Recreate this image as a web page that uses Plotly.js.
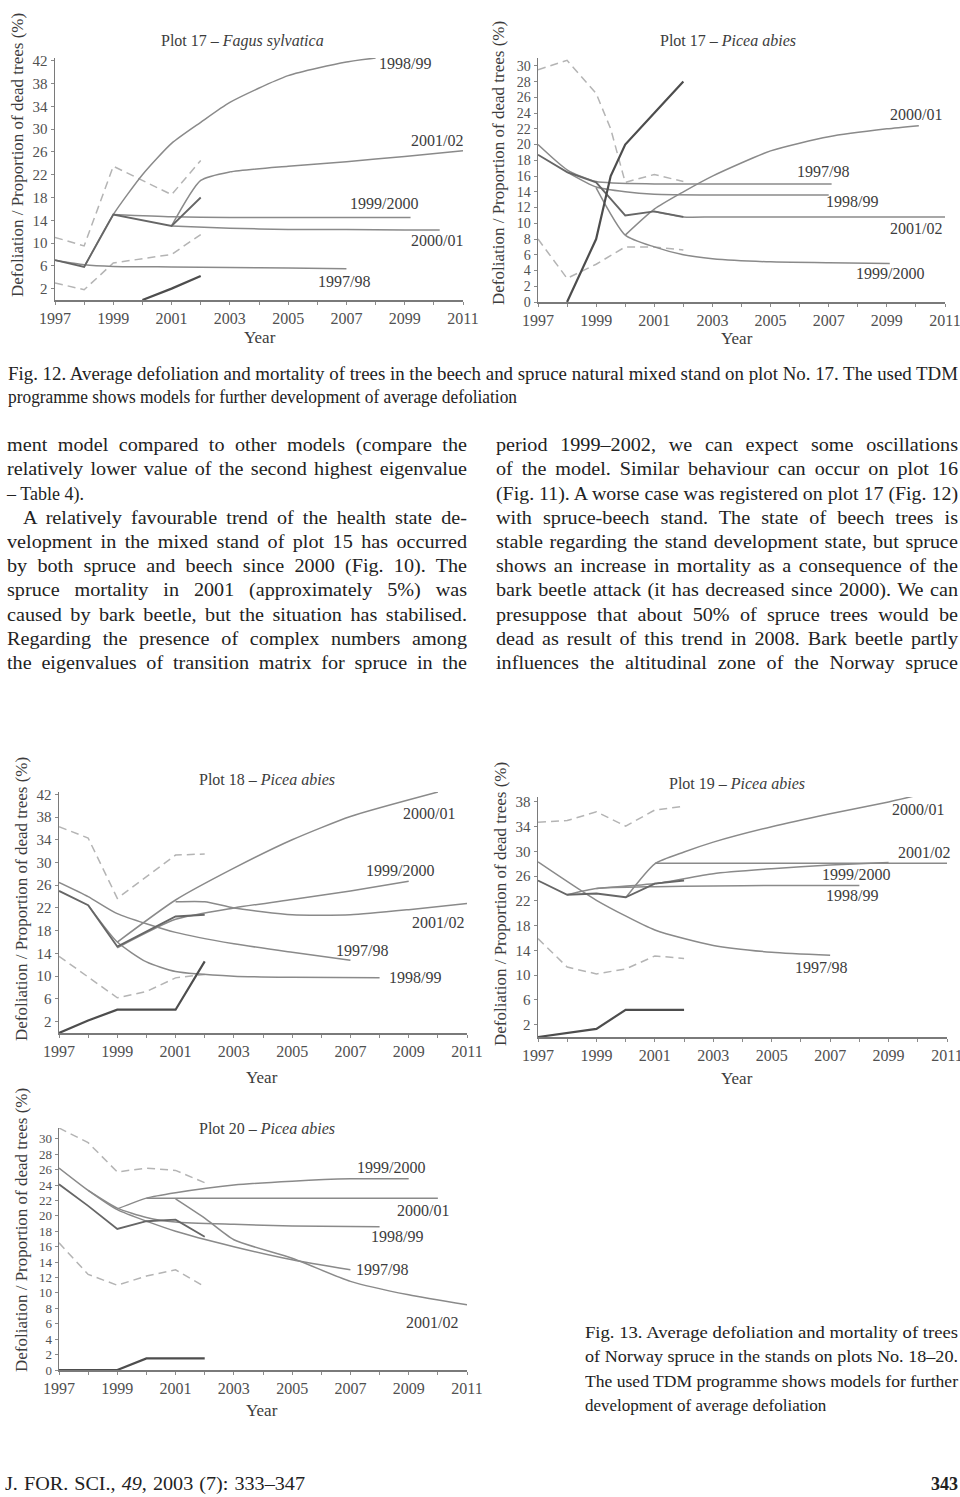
<!DOCTYPE html>
<html><head><meta charset="utf-8">
<script src="https://cdn.plot.ly/plotly-3.0.1.min.js"></script>
<style>
html,body{margin:0;padding:0;background:#fff}
body{width:960px;height:1497px;position:relative;overflow:hidden;font-family:"Liberation Serif","Times New Roman",serif;color:#222}
.chart{position:absolute}
.ln{position:absolute;white-space:nowrap;line-height:1}
.ln span{display:inline-block;transform-origin:0 50%}
</style></head><body>
<div id="c1" class="chart"></div>
<div id="c2" class="chart"></div>
<div id="c3" class="chart"></div>
<div id="c4" class="chart"></div>
<div id="c5" class="chart"></div>
<script>
// ================= DATA =================
const modelNames = ['1997/98', '1998/99', '1999/2000', '2000/01', '2001/02'];
const xTickYears = [1997,1998,1999,2000,2001,2002,2003,2004,2005,2006,2007,2008,2009,2010,2011];
const xTickLabels17 = ['1997','','1999','','2001','','2003','','2005','','2007','','2099','','2011'];
const xTickLabels18 = ['1997','','1999','','2001','','2003','','2005','','2007','','2009','','2011'];
const xTickLabels19 = ['1997','','1999','','2001','','2003','','2005','','2007','','2099','','2011'];
const yTicks42 = [2,6,10,14,18,22,26,30,34,38,42];
const yTicks30 = [0,2,4,6,8,10,12,14,16,18,20,22,24,26,28,30];
const yTicks38 = [2,6,10,14,18,22,26,30,34,38];

// Plot 17 – Fagus sylvatica
const f17ObsYears = [1997, 1998, 1999, 2001, 2002];
const f17Upper = [11, 9.5, 23.5, 18.5, 24.5];
const f17Lower = [3, 1.8, 6.5, 8, 11.5];
const f17Mean  = [7, 5.8, 15, 13, 18];
const f17MortYears = [2000, 2001, 2002];
const f17Mort  = [0, 2, 4.2];
const f17M9798Years = [1997, 1998, 1999, 2001, 2003, 2005, 2007];
const f17M9798 = [7, 6.2, 5.9, 5.8, 5.7, 5.6, 5.5];
const f17M9899Years = [1998, 1999, 2000, 2001, 2002, 2003, 2005, 2007, 2008];
const f17M9899 = [5.8, 15, 22, 27.5, 31.2, 34.7, 39.4, 41.8, 42.5];
const f17M9900Years = [1999, 2001, 2003, 2005, 2007, 2009.2];
const f17M9900 = [15, 14.6, 14.5, 14.5, 14.5, 14.5];
const f17M0001Years = [2001, 2003, 2005, 2007, 2009, 2010.2];
const f17M0001 = [13, 12.6, 12.4, 12.4, 12.3, 12.3];
const f17M0102Years = [2001, 2002, 2003, 2005, 2007, 2009, 2011];
const f17M0102 = [13, 21, 22.5, 23.5, 24.3, 25.2, 26.2];

// Plot 17 – Picea abies
const p17UpperYears = [1997, 1998, 1999, 1999.5, 2000, 2001, 2002];
const p17Upper = [29.5, 30.7, 26.5, 22, 15.2, 16.2, 15.3];
const p17ObsYears = [1997, 1998, 1999, 2000, 2001, 2002];
const p17Lower = [8, 3, 4.8, 7, 7, 6.6];
const p17Mean  = [18.7, 16.5, 15.2, 11, 11.5, 10.8];
const p17MortYears = [1998, 1999, 1999.5, 2000, 2001, 2002];
const p17Mort = [0, 8, 16, 20, 24, 28];
const p17M9798Years = [1997, 1998, 1999, 2001, 2003, 2005, 2007.1];
const p17M9798 = [20, 16.8, 15.3, 15, 15, 15, 15];
const p17M9899Years = [1998, 1999, 2000, 2001, 2003, 2005, 2007];
const p17M9899 = [16.5, 14.6, 14, 13.7, 13.6, 13.6, 13.6];
const p17M9900Years = [1999, 2000, 2001, 2002, 2003, 2005, 2007, 2009.1];
const p17M9900 = [14.5, 8.5, 7, 6, 5.5, 5.1, 5, 4.9];
const p17M0001Years = [2000, 2001, 2002, 2003, 2005, 2007, 2009, 2010.1];
const p17M0001 = [8.5, 11.8, 14, 16, 19.2, 21, 22, 22.4];
const p17M0102Years = [2001, 2002, 2003, 2005, 2007, 2009, 2011];
const p17M0102 = [11.5, 10.8, 10.8, 10.8, 10.8, 10.8, 10.8];

// Plot 18 – Picea abies
const p18UpperYears = [1997, 1998, 1999, 2001, 2002];
const p18Upper = [36.3, 34.3, 23.7, 31.3, 31.5];
const p18LowerYears = [1997, 1998, 1999, 2000, 2001, 2002];
const p18Lower = [13.5, 9.8, 6.2, 7.3, 9.7, 10.3];
const p18MortYears = [1997, 1998, 1999, 2001, 2002];
const p18Mort = [0, 2.2, 4.1, 4.1, 12.6];
const p18ObsYears = [1997, 1998, 1999, 2001, 2002];
const p18Mean = [25, 22.5, 15.2, 20.5, 20.8];
const p18M9798Years = [1997, 1998, 1999, 2001, 2003, 2005, 2007];
const p18M9798 = [26.5, 24, 21, 17.7, 15.7, 14.2, 12.8];
const p18M9899Years = [1998, 1999, 2000, 2001, 2003, 2005, 2008];
const p18M9899 = [22.5, 16, 12.5, 10.8, 10.0, 9.8, 9.7];
const p18M9900Years = [1999, 2001, 2003, 2005, 2007, 2009];
const p18M9900 = [15, 20, 22, 23.5, 25, 26.7];
const p18M0001Years = [1999, 2001, 2003, 2005, 2007, 2010];
const p18M0001 = [16, 23.4, 29, 34, 38.1, 42.4];
const p18M0102Years = [2001, 2002, 2003, 2005, 2007, 2009, 2011];
const p18M0102 = [23.1, 23.1, 22, 20.8, 20.8, 21.7, 22.8];

// Plot 19 – Picea abies
const p19ObsYears = [1997, 1998, 1999, 2000, 2001, 2002];
const p19Upper = [34.7, 35, 36.4, 34.1, 36.7, 37.3];
const p19Lower = [15.9, 11.3, 10.2, 11, 13.1, 12.7];
const p19Mean = [25.3, 23, 23.2, 22.6, 24.8, 25.3];
const p19MortYears = [1997, 1999, 2000, 2001, 2002];
const p19Mort = [0, 1.3, 4.4, 4.4, 4.4];
const p19M9798Years = [1997, 1999, 2001, 2003, 2005, 2007];
const p19M9798 = [28.3, 22.1, 17.3, 14.8, 13.7, 13.2];
const p19M9899Years = [1998, 1999, 2001, 2003, 2005, 2008];
const p19M9899 = [23, 24, 24.3, 24.4, 24.5, 24.5];
const p19M9900Years = [1999, 2001, 2003, 2005, 2007, 2009];
const p19M9900 = [24, 24.8, 26.4, 27.2, 27.8, 28.2];
const p19M0001Years = [2000, 2001, 2002, 2003, 2005, 2007, 2009, 2010];
const p19M0001 = [22.5, 28, 29.9, 31.5, 34, 36.1, 38, 39.1];
const p19M0102Years = [2001, 2003, 2005, 2007, 2009, 2011];
const p19M0102 = [28.1, 28.1, 28.1, 28.1, 28.1, 28.1];

// Plot 20 – Picea abies
const p20ObsYears = [1997, 1998, 1999, 2000, 2001, 2002];
const p20Upper = [31.4, 29.5, 25.7, 26.2, 25.9, 24.3];
const p20Lower = [16.5, 12.4, 11, 12.2, 13, 10.8];
const p20Mean = [24.1, 21.3, 18.3, 19.3, 19.5, 17.3];
const p20MortYears = [1997, 1999, 2000, 2001, 2002];
const p20Mort = [0, 0, 1.5, 1.5, 1.5];
const p20M9798Years = [1997, 1998, 1999, 2001, 2003, 2005, 2007];
const p20M9798 = [26.2, 23.3, 20.8, 18, 16, 14.3, 13];
const p20M9899Years = [1998, 1999, 2000, 2001, 2003, 2005, 2008];
const p20M9899 = [23.3, 21, 19.8, 19.2, 18.9, 18.7, 18.6];
const p20M9900Years = [1999, 2000, 2001, 2003, 2005, 2007, 2009];
const p20M9900 = [20.9, 22.3, 23, 24, 24.5, 24.8, 24.8];
const p20M0001Years = [2000, 2001, 2003, 2005, 2007, 2010];
const p20M0001 = [22.3, 22.3, 22.3, 22.3, 22.3, 22.3];
const p20M0102Years = [2001, 2002, 2003, 2005, 2007, 2009, 2011];
const p20M0102 = [22.2, 19.7, 16.9, 14.5, 11.5, 9.75, 8.45];

// ================= STYLE / BUILD =================
const FONT = '"Liberation Serif", "Times New Roman", serif';
const STY = {
  dash:  {color:'#b4b4b4', width:1.5, dash:'8px,5px'},
  model: {color:'#8a8a8a', width:1.5, shape:'spline', smoothing:0.6},
  obs:   {color:'#666', width:1.8},
  mort:  {color:'#4d4d4d', width:2.2}
};
function tr(x, y, kind){
  return {x:x, y:y, type:'scatter', mode:'lines', line:Object.assign({}, STY[kind]), hoverinfo:'skip', cliponaxis:false};
}

function build(id, c){
  const el = document.getElementById(id);
  el.style.left = c.left+'px'; el.style.top = c.top+'px';
  el.style.width = c.W+'px'; el.style.height = c.H+'px';
  const m = c.m;
  const pw = c.W - m.l - m.r, ph = c.H - m.t - m.b;
  const P = (X, Y) => ({x:(X - m.l)/pw, y:(c.H - m.b - Y)/ph});
  const ann = [];
  const addPx = (text, X, Y, size, extra) => {
    const p = P(X, Y);
    ann.push(Object.assign({text:text, xref:'paper', yref:'paper', x:p.x, y:p.y, xanchor:'center', yanchor:'middle',
      showarrow:false, font:{family:FONT, size:size, color:'#3c3c3c'}}, extra||{}));
  };
  addPx(c.title, c.titlePos[0], c.titlePos[1], 16);
  addPx('Year', c.yearPos[0], c.yearPos[1], 17);
  addPx('Defoliation / Proportion of dead trees (%)', c.ytPos[0], c.ytPos[1], 17, {textangle:-90});
  c.labels.forEach((L, i) => {
    ann.push({text:modelNames[i], x:L[0], y:L[1], xref:'x', yref:'y', xanchor:'center', yanchor:'middle',
      showarrow:false, font:{family:FONT, size:16, color:'#3c3c3c'}});
  });
  const layout = {
    width:c.W, height:c.H, margin:{l:m.l, r:m.r, t:m.t, b:m.b, pad:0},
    paper_bgcolor:'rgba(0,0,0,0)', plot_bgcolor:'rgba(0,0,0,0)', showlegend:false,
    font:{family:FONT, color:'#4a4a4a'},
    xaxis:{range:[1997,2011], tickmode:'array', tickvals:xTickYears, ticktext:c.xLabels, showline:true,
      linecolor:'#7a7a7a', linewidth:1.5, ticks:'outside', ticklen:3, tickcolor:'#8a8a8a', showgrid:false,
      zeroline:false, tickfont:{family:FONT, size:16, color:'#505050'}, fixedrange:true},
    yaxis:{range:[0,c.yTop], tickmode:'array', tickvals:c.yTicks, showline:true, linecolor:'#7a7a7a', linewidth:1.5,
      ticks:'outside', ticklen:3, tickcolor:'#8a8a8a', showgrid:false, zeroline:false,
      tickfont:{family:FONT, size:c.yFont, color:'#505050'}, fixedrange:true},
    annotations:ann
  };
  Plotly.newPlot(el, c.traces, layout, {staticPlot:true, displayModeBar:false});
}

build('c1', {left:0, top:0, W:480, H:355, m:{l:55, r:17, t:58, b:55}, yTop:42.5, yTicks:yTicks42, yFont:15,
  xLabels:xTickLabels17, title:'Plot 17 – <i>Fagus sylvatica</i>', titlePos:[242,41], yearPos:[260,337], ytPos:[17,155],
  labels:[[2006.9,3.2],[2009.0,41.6],[2008.3,16.9],[2010.1,10.5],[2010.1,28.1]],
  traces:[
    tr(f17ObsYears, f17Upper, 'dash'), tr(f17ObsYears, f17Lower, 'dash'),
    tr(f17M9798Years, f17M9798, 'model'), tr(f17M9899Years, f17M9899, 'model'),
    tr(f17M9900Years, f17M9900, 'model'), tr(f17M0001Years, f17M0001, 'model'),
    tr(f17M0102Years, f17M0102, 'model'),
    tr(f17ObsYears, f17Mean, 'obs'), tr(f17MortYears, f17Mort, 'mort')
  ]});

build('c2', {left:480, top:0, W:490, H:355, m:{l:58, r:25, t:58, b:53}, yTop:31, yTicks:yTicks30, yFont:14,
  xLabels:xTickLabels17, title:'Plot 17 – <i>Picea abies</i>', titlePos:[248,41], yearPos:[257,338], ytPos:[18,163],
  labels:[[2006.8,16.6],[2007.8,12.8],[2009.1,3.6],[2010.0,23.8],[2010.0,9.4]],
  traces:[
    tr(p17UpperYears, p17Upper, 'dash'), tr(p17ObsYears, p17Lower, 'dash'),
    tr(p17M9798Years, p17M9798, 'model'), tr(p17M9899Years, p17M9899, 'model'),
    tr(p17M9900Years, p17M9900, 'model'), tr(p17M0001Years, p17M0001, 'model'),
    tr(p17M0102Years, p17M0102, 'model'),
    tr(p17ObsYears, p17Mean, 'obs'), tr(p17MortYears, p17Mort, 'mort')
  ]});

build('c3', {left:0, top:745, W:490, H:352, m:{l:59, r:23, t:47, b:64}, yTop:42.4, yTicks:yTicks42, yFont:15,
  xLabels:xTickLabels18, title:'Plot 18 – <i>Picea abies</i>', titlePos:[267,35], yearPos:[262,332], ytPos:[21,154],
  labels:[[2007.4,14.6],[2009.2,9.8],[2008.7,28.6],[2009.7,38.7],[2010.0,19.5]],
  traces:[
    tr(p18UpperYears, p18Upper, 'dash'), tr(p18LowerYears, p18Lower, 'dash'),
    tr(p18M9798Years, p18M9798, 'model'), tr(p18M9899Years, p18M9899, 'model'),
    tr(p18M9900Years, p18M9900, 'model'), tr(p18M0001Years, p18M0001, 'model'),
    tr(p18M0102Years, p18M0102, 'model'),
    tr(p18ObsYears, p18Mean, 'obs'), tr(p18MortYears, p18Mort, 'mort')
  ]});

build('c4', {left:480, top:745, W:490, H:352, m:{l:58, r:23, t:52, b:60}, yTop:38.8, yTicks:yTicks38, yFont:15,
  xLabels:xTickLabels19, title:'Plot 19 – <i>Picea abies</i>', titlePos:[257,38], yearPos:[257,333], ytPos:[20,159],
  labels:[[2006.7,11.3],[2007.75,22.8],[2007.9,26.2],[2010.0,36.7],[2010.2,29.8]],
  traces:[
    tr(p19ObsYears, p19Upper, 'dash'), tr(p19ObsYears, p19Lower, 'dash'),
    tr(p19M9798Years, p19M9798, 'model'), tr(p19M9899Years, p19M9899, 'model'),
    tr(p19M9900Years, p19M9900, 'model'), tr(p19M0001Years, p19M0001, 'model'),
    tr(p19M0102Years, p19M0102, 'model'),
    tr(p19ObsYears, p19Mean, 'obs'), tr(p19MortYears, p19Mort, 'mort')
  ]});

build('c5', {left:0, top:1072, W:490, H:360, m:{l:59, r:23, t:56, b:62}, yTop:31.4, yTicks:yTicks30, yFont:13,
  xLabels:xTickLabels18, title:'Plot 20 – <i>Picea abies</i>', titlePos:[267,56], yearPos:[262,338], ytPos:[21,158],
  labels:[[2008.1,13.0],[2008.6,17.3],[2008.4,26.3],[2009.5,20.7],[2009.8,6.2]],
  traces:[
    tr(p20ObsYears, p20Upper, 'dash'), tr(p20ObsYears, p20Lower, 'dash'),
    tr(p20M9798Years, p20M9798, 'model'), tr(p20M9899Years, p20M9899, 'model'),
    tr(p20M9900Years, p20M9900, 'model'), tr(p20M0001Years, p20M0001, 'model'),
    tr(p20M0102Years, p20M0102, 'model'),
    tr(p20ObsYears, p20Mean, 'obs'), tr(p20MortYears, p20Mort, 'mort')
  ]});

// ================= PAGE TEXT =================
function line(html, left, cy, fs, target, justify, bold){
  const d = document.createElement('div');
  d.className = 'ln';
  d.style.left = left+'px';
  d.style.top = (cy - 0.66*fs)+'px';
  d.style.fontSize = fs+'px';
  if (bold) d.style.fontWeight = 'bold';
  const s = document.createElement('span');
  s.innerHTML = html;
  d.appendChild(s);
  document.body.appendChild(d);
  if (target){
    const nat = s.getBoundingClientRect().width;
    let sc = target/nat;
    if (!justify && sc > 1) sc = 1;
    const scl = Math.max(0.8, Math.min(sc, 1.12));
    s.style.transform = 'scaleX(' + scl + ')';
    if (justify && sc > scl){
      const n = (s.textContent.match(/ /g) || []).length;
      if (n) s.style.wordSpacing = ((target - nat*scl)/(n*scl)) + 'px';
    }
  }
  return d;
}

// Fig. 12 caption
line('Fig. 12. Average defoliation and mortality of trees in the beech and spruce natural mixed stand on plot No. 17. The used TDM', 8, 377, 18, 950, true);
line('programme shows models for further development of average defoliation', 8, 400, 18, 509, true);

// Left column
const L0 = 448, LH = 24.2;
const leftLines = [
  ['ment model compared to other models (compare the', 7, 460, true],
  ['relatively lower value of the second highest eigenvalue', 7, 460, true],
  ['– Table 4).', 7, 92, false],
  ['A relatively favourable trend of the health state de-', 23, 444, true],
  ['velopment in the mixed stand of plot 15 has occurred', 7, 460, true],
  ['by both spruce and beech since 2000 (Fig. 10). The', 7, 460, true],
  ['spruce mortality in 2001 (approximately 5%) was', 7, 460, true],
  ['caused by bark beetle, but the situation has stabilised.', 7, 460, true],
  ['Regarding the presence of complex numbers among', 7, 460, true],
  ['the eigenvalues of transition matrix for spruce in the', 7, 460, true]
];
leftLines.forEach((l, i) => line(l[0], l[1], L0 + i*LH, 18, l[2], l[3]));

const rightLines = [
  'period 1999–2002, we can expect some oscillations',
  'of the model. Similar behaviour can occur on plot 16',
  '(Fig. 11). A worse case was registered on plot 17 (Fig. 12)',
  'with spruce-beech stand. The state of beech trees is',
  'stable regarding the stand development state, but spruce',
  'shows an increase in mortality as a consequence of the',
  'bark beetle attack (it has decreased since 2000). We can',
  'presuppose that about 50% of spruce trees would be',
  'dead as result of this trend in 2008. Bark beetle partly',
  'influences the altitudinal zone of the Norway spruce'
];
rightLines.forEach((t, i) => line(t, 496, L0 + i*LH, 18, 462, true));

// Fig. 13 caption
const capLines = [
  ['Fig. 13. Average defoliation and mortality of trees', 373, true],
  ['of Norway spruce in the stands on plots No. 18–20.', 373, true],
  ['The used TDM programme shows models for further', 373, true],
  ['development of average defoliation', 262, false]
];
capLines.forEach((l, i) => line(l[0], 585, 1335 + i*24.5, 17, l[1], l[2]));

// Footer
line('J. FOR. SCI., <i>49</i>, 2003 (7): 333–347', 5, 1487, 18, 300, true);
const pg = line('343', 0, 1487, 18, null, false, true);
pg.style.left = (958 - pg.getBoundingClientRect().width) + 'px';
</script>
</body></html>
